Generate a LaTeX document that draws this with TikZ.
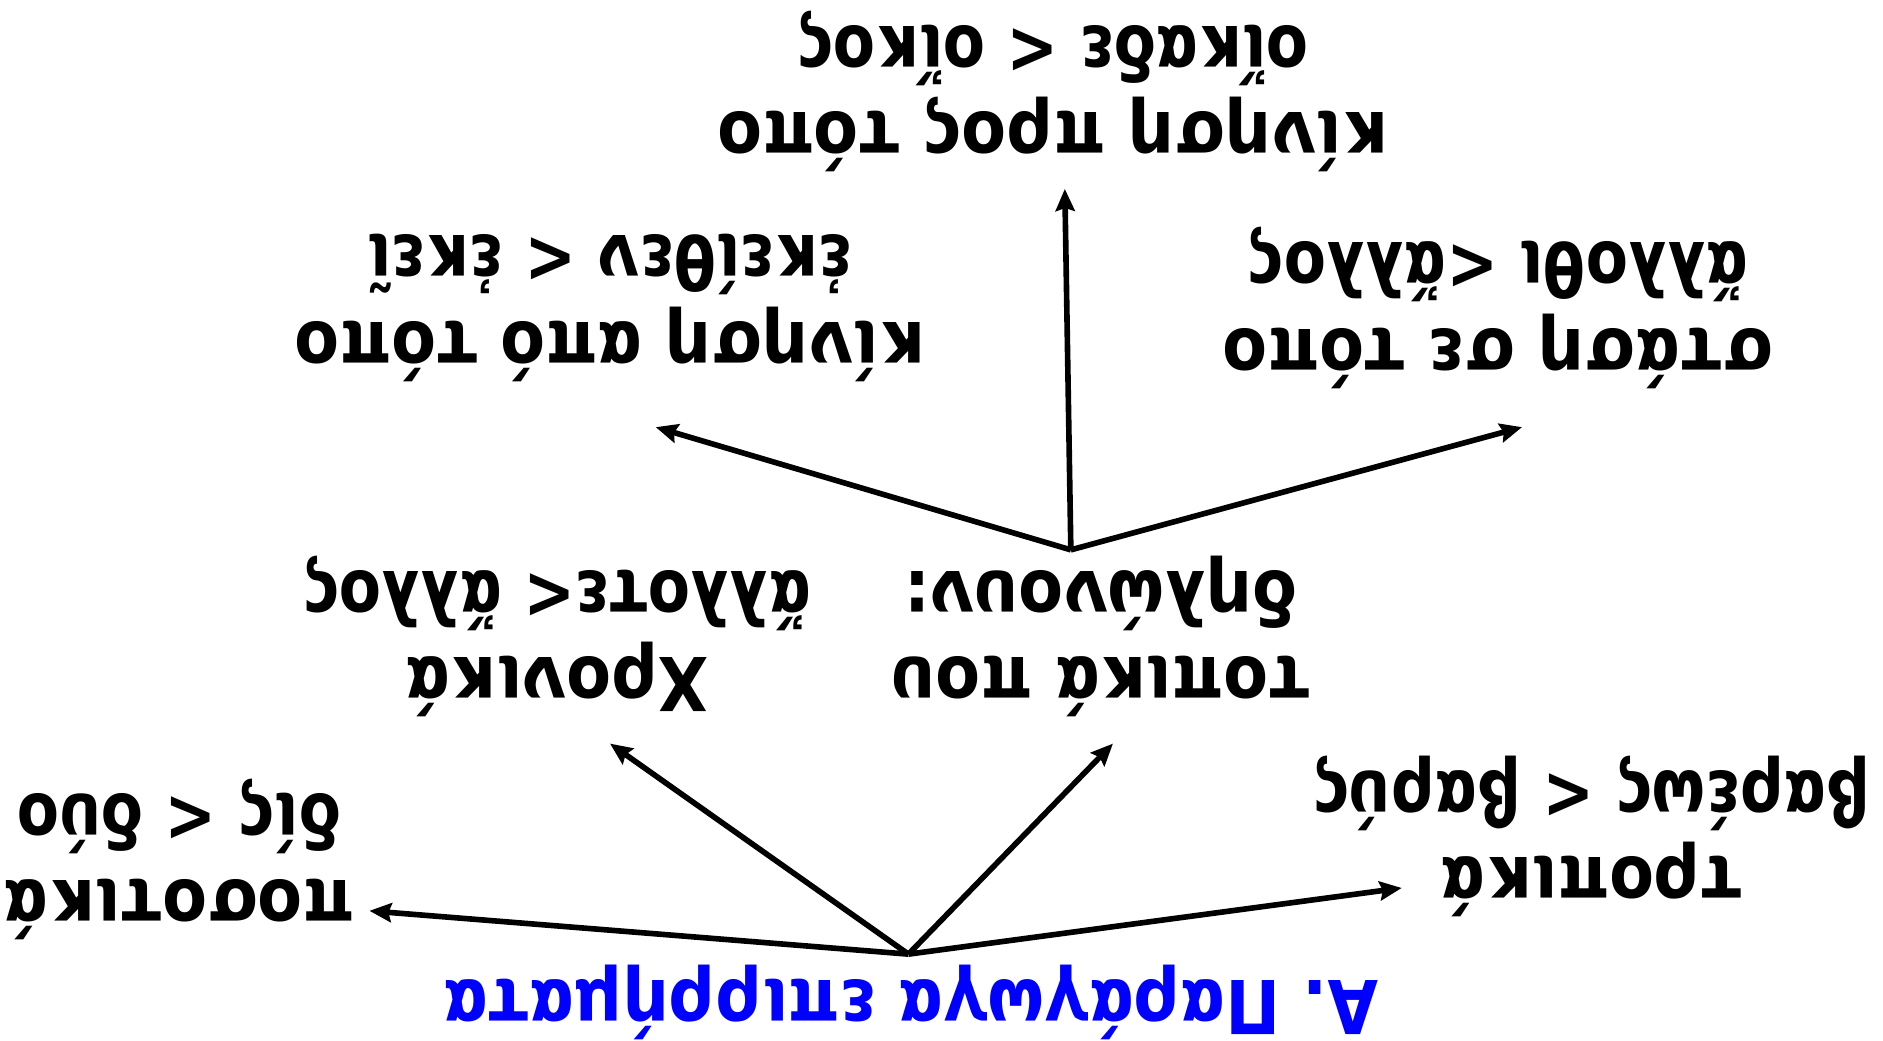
\documentclass[tikz,border=0pt]{standalone}
\usepackage{fontspec}
\setmainfont{DejaVu Sans}[FakeStretch=0.88]
\newfontfamily\exfont{DejaVu Sans}[FakeStretch=0.83]
\usetikzlibrary{arrows.meta}
\usetikzlibrary{calc}

\begin{document}
\begin{tikzpicture}[x=0.6pt,y=0.6pt,yscale=-1,xscale=1,
  lbl/.style={rotate=180,align=center,inner sep=2pt,font=\fontsize{37}{43}\selectfont},
  arr/.style={line width=2.8pt,-{Stealth[length=11pt,width=9.5pt,inset=1.5pt]}}]
\useasboundingbox (0,0) rectangle (1565,864.4);

% Text Node
\node[lbl,text={rgb,255:red,0;green,0;blue,255},font=\fontsize{37}{43}\selectfont\bfseries] (title) at (757,833) {Α. Παράγωγα επιρρήματα};
% Text Node
\node[lbl] (posot) at (149,714) {\textbf{ποσοτικά}\\{\exfont\bfseries δίς < δύο}};
% Text Node
\node[lbl] (trop) at (1323,695) {\textbf{τροπικά}\\{\exfont\bfseries βαρέως < βαρύς}};
% Text Node
\node[lbl] (chron) at (463,529) {\textbf{Χρονικά}\\{\exfont\bfseries ἄλλοτε< ἄλλος}};
% Text Node
\node[lbl] (topik) at (915,529) {\textbf{τοπικά που}\\\textbf{δηλώνουν:}};
% Text Node
\node[lbl] (apo) at (507,256) {\textbf{κίνηση από τόπο}\\{\exfont\bfseries ἐκείθεν < ἐκεῖ}};
% Text Node
\node[lbl] (stasi) at (1245,256) {\textbf{στάση σε τόπο}\\{\exfont\bfseries ἄλλοθι <ἄλλος}};
% Text Node
\node[lbl] (pros) at (875,76) {\textbf{κίνηση προς τόπο}\\{\exfont\bfseries οἴκαδε < οἴκος}};

\coordinate (rootA) at ($(title)+(-2,-40)$);
\coordinate (rootB) at ($(topik)+(-25,-72)$);

%Straight Lines
\draw[arr] (rootA) -- ($(posot)+(158,43)$);
\draw[arr] (rootA) -- ($(chron)+(44,89)$);
\draw[arr] (rootA) -- ($(topik)+(10,89)$);
\draw[arr] (rootA) -- ($(trop)+(-158,43)$);

%Straight Lines
\draw[arr] (rootB) -- ($(apo)+(38,99)$);
\draw[arr] (rootB) -- ($(pros)+(10,81)$);
\draw[arr] (rootB) -- ($(stasi)+(20,99)$);

\end{tikzpicture}
\end{document}
